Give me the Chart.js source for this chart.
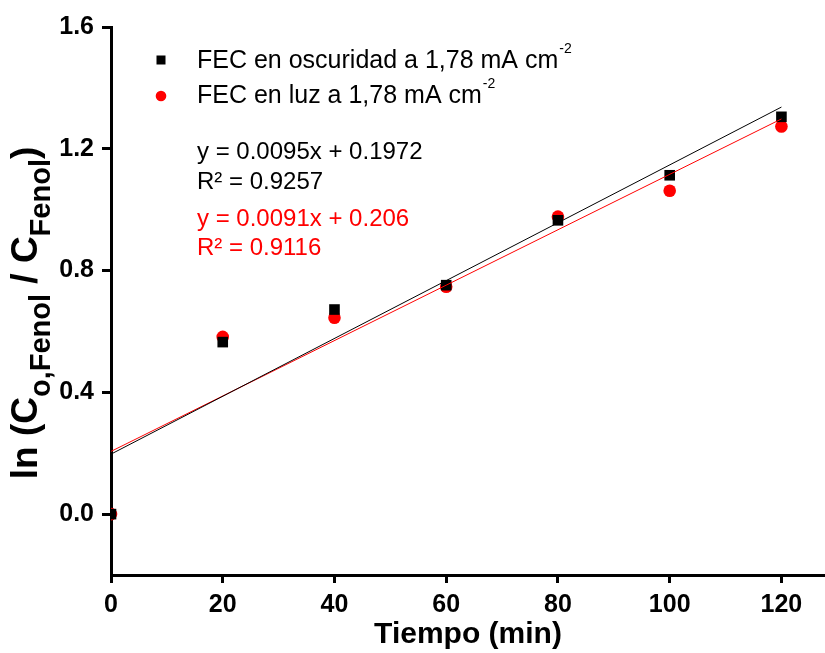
<!DOCTYPE html>
<html>
<head>
<meta charset="utf-8">
<script src="https://cdn.jsdelivr.net/npm/chart.js@4"></script>
<style>
  body { margin: 0; background: #fff; }
  #wrap { width: 825px; height: 653px; position: relative; }
</style>
</head>
<body>
<div id="wrap"><canvas id="grafica"></canvas></div>
<script>
// Datos
const tiempo = [0, 20, 40, 60, 80, 100, 120];
const oscuridad = [0, 0.565, 0.672, 0.752, 0.965, 1.113, 1.305];
const luz = [0, 0.582, 0.645, 0.747, 0.977, 1.062, 1.273];

// Rectas de ajuste (extremos)
const ajusteX = [0, 120];
const ajusteOscuridad = [0.197, 1.337];
const ajusteLuz = [0.206, 1.298];

const xTicks = [0, 20, 40, 60, 80, 100, 120];
const yTicks = [0, 0.4, 0.8, 1.2, 1.6];

const pares = (xs, ys) => xs.map((x, i) => ({ x: x, y: ys[i] }));

const fuente = '"Liberation Sans", Arial, sans-serif';

// Leyenda, ecuaciones y titulo del eje Y dibujados a mano
const textos = {
  id: 'textos',
  afterDraw(chart) {
    const ctx = chart.ctx;
    ctx.save();
    ctx.textBaseline = 'middle';
    ctx.textAlign = 'left';

    // leyenda
    ctx.fillStyle = '#000';
    ctx.fillRect(156.5, 55.5, 9, 9);
    ctx.fillStyle = 'red';
    ctx.beginPath();
    ctx.arc(161, 96, 5.3, 0, Math.PI * 2);
    ctx.fill();

    const sup = (txt, x, y, color) => {
      ctx.fillStyle = color;
      ctx.font = '25px ' + fuente;
      ctx.fillText(txt, x, y);
      const w = ctx.measureText(txt).width;
      ctx.font = '14px ' + fuente;
      ctx.fillText('-2', x + w + 1, y - 12);
    };
    sup('FEC en oscuridad a 1,78 mA cm', 197, 61, '#000');
    sup('FEC en luz a 1,78 mA cm', 197, 96, '#000');

    ctx.font = '24px ' + fuente;
    ctx.fillStyle = '#000';
    ctx.fillText('y = 0.0095x + 0.1972', 197, 152);
    ctx.fillText('R\u00b2 = 0.9257', 197, 182);
    ctx.fillStyle = 'red';
    ctx.fillText('y = 0.0091x + 0.206', 197, 219);
    ctx.fillText('R\u00b2 = 0.9116', 197, 248);

    // titulo eje Y con subindices
    const partes = [
      ['ln (C', false], ['o,Fenol', true], [' / C', false], ['Fenol', true], [')', false]
    ];
    const fMain = 'bold 37px ' + fuente;
    const fSub = 'bold 29px ' + fuente;
    let total = 0;
    partes.forEach(p => { ctx.font = p[1] ? fSub : fMain; total += ctx.measureText(p[0]).width; });
    ctx.translate(37, 313);
    ctx.rotate(-Math.PI / 2);
    ctx.textBaseline = 'alphabetic';
    ctx.fillStyle = '#000';
    let x = -total / 2;
    partes.forEach(p => {
      ctx.font = p[1] ? fSub : fMain;
      ctx.fillText(p[0], x, p[1] ? 13 : 0);
      x += ctx.measureText(p[0]).width;
    });
    ctx.restore();
  }
};

const ctx = document.getElementById('grafica').getContext('2d');
const myChart = new Chart(ctx, {
  type: 'scatter',
  data: {
    datasets: [
      {
        label: 'ajuste oscuridad',
        data: pares(ajusteX, ajusteOscuridad),
        showLine: true,
        borderColor: '#000',
        borderWidth: 1,
        pointRadius: 0
      },
      {
        label: 'ajuste luz',
        data: pares(ajusteX, ajusteLuz),
        showLine: true,
        borderColor: 'red',
        borderWidth: 1,
        pointRadius: 0
      },
      {
        label: 'FEC en oscuridad a 1,78 mA cm-2',
        data: pares(tiempo, oscuridad),
        pointStyle: 'rect',
        pointRadius: 7.5,
        backgroundColor: '#000',
        borderColor: '#000',
        borderWidth: 0
      },
      {
        label: 'FEC en luz a 1,78 mA cm-2',
        data: pares(tiempo, luz),
        pointStyle: 'circle',
        pointRadius: 6.3,
        backgroundColor: 'red',
        borderColor: 'red',
        borderWidth: 0
      }
    ]
  },
  options: {
    responsive: true,
    maintainAspectRatio: false,
    animation: false,
    layout: { autoPadding: false, padding: { top: 27, right: 0, left: 0, bottom: 0 } },
    plugins: {
      legend: { display: false },
      tooltip: { enabled: false }
    },
    scales: {
      x: {
        type: 'linear',
        min: 0,
        max: 127.8,
        afterFit: s => { s.height = 78; s.paddingLeft = 0; s.paddingRight = 0; },
        afterBuildTicks: s => { s.ticks = xTicks.map(v => ({ value: v })); },
        border: { display: true, color: '#000', width: 3 },
        grid: { display: true, drawOnChartArea: false, drawTicks: true, tickLength: 8, color: '#000', lineWidth: 3 },
        ticks: {
          color: '#000',
          padding: 7,
          maxRotation: 0,
          font: { family: fuente, size: 25, weight: 'bold' }
        },
        title: {
          display: true,
          text: 'Tiempo (min)',
          color: '#000',
          padding: 0,
          font: { family: fuente, size: 30, weight: 'bold' }
        }
      },
      y: {
        min: -0.2,
        max: 1.6,
        afterFit: s => { s.width = 111; s.paddingTop = 0; s.paddingBottom = 0; },
        afterBuildTicks: s => { s.ticks = yTicks.map(v => ({ value: v })); },
        border: { display: true, color: '#000', width: 3 },
        grid: { display: true, drawOnChartArea: false, drawTicks: true, tickLength: 9, color: '#000', lineWidth: 3 },
        ticks: {
          color: '#000',
          padding: 8,
          callback: v => v.toFixed(1),
          font: { family: fuente, size: 25, weight: 'bold' }
        }
      }
    }
  },
  plugins: [textos]
});
</script>
</body>
</html>
